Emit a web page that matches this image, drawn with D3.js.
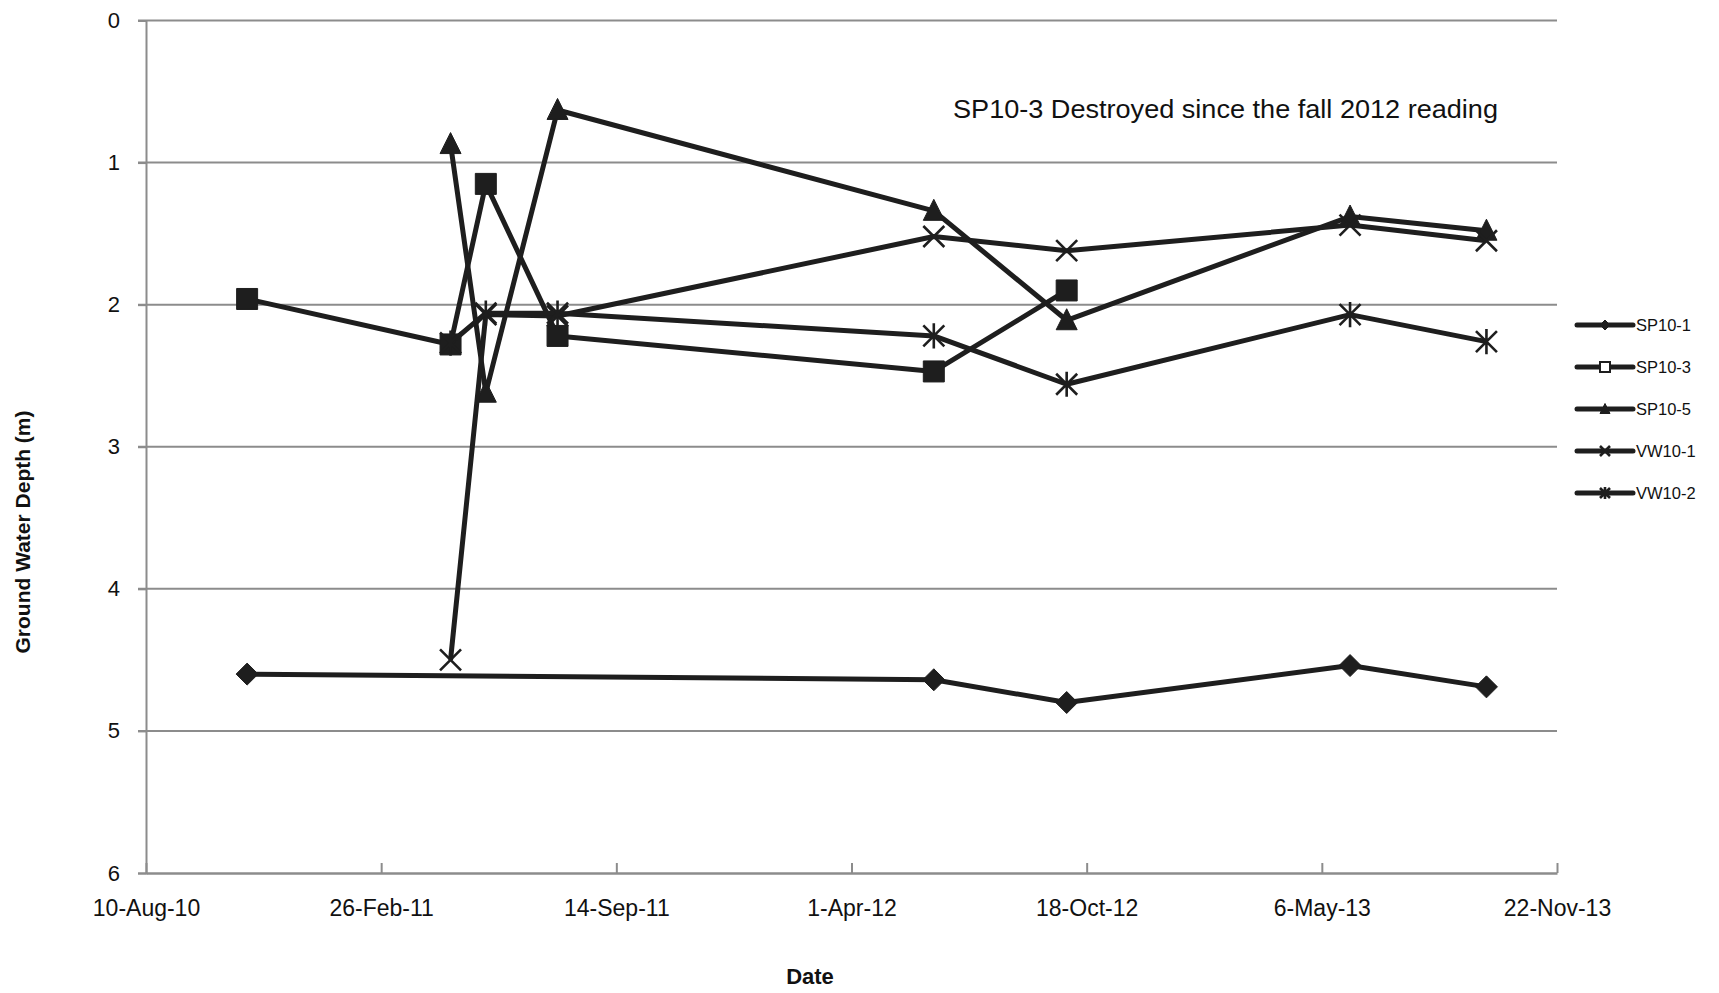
<!DOCTYPE html>
<html>
<head>
<meta charset="utf-8">
<script src="https://cdn.jsdelivr.net/npm/d3@7"></script>
<style>
  body { margin: 0; background: #fff; }
  text { font-family: "Liberation Sans", Arial, sans-serif; fill: #111; }
</style>
</head>
<body>
<script>
// data (depth in m below ground)
const sp101Dates = ['2010-11-04', '2012-06-10', '2012-10-01', '2013-05-30', '2013-09-23'];
const sp101Vals  = [4.60, 4.64, 4.80, 4.54, 4.69];

const sp103Dates = ['2010-11-04', '2011-04-26', '2011-05-26', '2011-07-26', '2012-06-10', '2012-10-01'];
const sp103Vals  = [1.96, 2.28, 1.15, 2.22, 2.47, 1.90];

const sp105Dates = ['2011-04-26', '2011-05-26', '2011-07-26', '2012-06-10', '2012-10-01', '2013-05-30', '2013-09-23'];
const sp105Vals  = [0.87, 2.62, 0.63, 1.34, 2.11, 1.38, 1.48];

const vw101Dates = ['2011-04-26', '2011-05-26', '2011-07-26', '2012-06-10', '2012-10-01', '2013-05-30', '2013-09-23'];
const vw101Vals  = [4.50, 2.07, 2.08, 1.52, 1.62, 1.44, 1.55];

const vw102Dates = ['2011-04-26', '2011-05-26', '2011-07-26', '2012-06-10', '2012-10-01', '2013-05-30', '2013-09-23'];
const vw102Vals  = [2.27, 2.06, 2.06, 2.22, 2.56, 2.07, 2.26];

const seriesNames = ['SP10-1', 'SP10-3', 'SP10-5', 'VW10-1', 'VW10-2'];
const yTicks = [0, 1, 2, 3, 4, 5, 6];
const xTickDates = ['2010-08-10', '2011-02-26', '2011-09-14', '2012-04-01', '2012-10-18', '2013-05-06', '2013-11-22'];
const note = 'SP10-3 Destroyed since the fall 2012 reading';

const parse = d3.utcParse('%Y-%m-%d');
const mk = (dates, vals) => dates.map((d, i) => ({date: parse(d), v: vals[i]}));

const series = [
  {name: seriesNames[0], marker: 'diamond', pts: mk(sp101Dates, sp101Vals)},
  {name: seriesNames[1], marker: 'square',  pts: mk(sp103Dates, sp103Vals)},
  {name: seriesNames[2], marker: 'triangle', pts: mk(sp105Dates, sp105Vals)},
  {name: seriesNames[3], marker: 'x',       pts: mk(vw101Dates, vw101Vals)},
  {name: seriesNames[4], marker: 'star',    pts: mk(vw102Dates, vw102Vals)}
];

const W = 1719, H = 993;
const svg = d3.select('body').append('svg')
  .attr('width', W)
  .attr('height', H);

const x = d3.scaleUtc()
  .domain([parse(xTickDates[0]), parse(xTickDates[xTickDates.length - 1])])
  .range([146, 1557]);
const y = d3.scaleLinear().domain([0, 6]).range([20.5, 873]);

const grey = '#8c8c8c';
const ink = '#1e1e1e';

// gridlines
svg.append('g')
  .selectAll('line')
  .data(yTicks.slice(0, -1))
  .join('line')
    .attr('x1', x.range()[0] - 8)
    .attr('x2', x.range()[1])
    .attr('y1', d => y(d))
    .attr('y2', d => y(d))
    .attr('stroke', grey)
    .attr('stroke-width', 2);

// y axis
const yAxis = svg.append('g')
  .attr('transform', 'translate(' + x.range()[0] + ',0)')
  .call(d3.axisLeft(y).tickValues(yTicks).tickSize(8).tickPadding(18).tickFormat(d3.format('d')));
yAxis.select('.domain').attr('stroke', grey).attr('stroke-width', 2);
yAxis.selectAll('.tick line').attr('stroke', grey).attr('stroke-width', 2);
yAxis.selectAll('.tick text').style('font-size', '22px').attr('fill', '#111');

// x axis (ticks point up into plot)
const xAxis = svg.append('g')
  .attr('transform', 'translate(0,' + y(6) + ')')
  .call(d3.axisBottom(x).tickValues(xTickDates.map(parse)).tickSizeInner(-10).tickSizeOuter(0)
    .tickPadding(31).tickFormat(d3.utcFormat('%-d-%b-%y')));
xAxis.select('.domain').attr('stroke', grey).attr('stroke-width', 2.5);
xAxis.selectAll('.tick line').attr('stroke', grey).attr('stroke-width', 2);
xAxis.selectAll('.tick text').style('font-size', '23px').attr('fill', '#111').attr('dy', '0.5em');

// axis titles
svg.append('text')
  .attr('transform', 'translate(30,532) rotate(-90)')
  .attr('text-anchor', 'middle')
  .style('font-size', '21px')
  .style('font-weight', 'bold')
  .text('Ground Water Depth (m)');

svg.append('text')
  .attr('x', 810)
  .attr('y', 984)
  .attr('text-anchor', 'middle')
  .style('font-size', '22px')
  .style('font-weight', 'bold')
  .text('Date');

svg.append('text')
  .attr('x', 953)
  .attr('y', 118)
  .style('font-size', '26px')
  .attr('textLength', 545)
  .attr('lengthAdjust', 'spacingAndGlyphs')
  .text(note);

// marker shapes
function markerPath(type, s) {
  const h = s / 2;
  if (type === 'diamond') return `M0,${-h}L${h},0L0,${h}L${-h},0Z`;
  if (type === 'square') return `M${-h},${-h}H${h}V${h}H${-h}Z`;
  if (type === 'triangle') return `M0,${-h * 1.1}L${h},${h * 0.9}L${-h},${h * 0.9}Z`;
  if (type === 'x') return `M${-h},${-h}L${h},${h}M${h},${-h}L${-h},${h}`;
  return `M${-h},${-h}L${h},${h}M${h},${-h}L${-h},${h}M0,${-h * 1.2}V${h * 1.2}`;
}
function drawMarker(g, type, s, open) {
  const stroked = type === 'x' || type === 'star';
  g.append('path')
    .attr('d', markerPath(type, s))
    .attr('fill', stroked ? 'none' : (open ? '#fff' : ink))
    .attr('stroke', ink)
    .attr('stroke-width', stroked ? 2.6 : (open ? 2 : 1));
}

const line = d3.line().x(d => x(d.date)).y(d => y(d.v));

const plot = svg.append('g');
series.forEach(s => {
  const g = plot.append('g').attr('class', 'series');
  g.append('path')
    .attr('d', line(s.pts))
    .attr('fill', 'none')
    .attr('stroke', ink)
    .attr('stroke-width', 5)
    .attr('stroke-linejoin', 'round');
  s.pts.forEach(p => {
    const m = g.append('g').attr('transform', 'translate(' + x(p.date) + ',' + y(p.v) + ')');
    drawMarker(m, s.marker, s.marker === 'diamond' ? 22 : 21, false);
  });
});

// legend
const legend = svg.append('g').attr('transform', 'translate(1577,325)');
series.forEach((s, i) => {
  const row = legend.append('g').attr('transform', 'translate(0,' + (i * 42) + ')');
  row.append('line')
    .attr('x1', 0).attr('x2', 56)
    .attr('stroke', ink).attr('stroke-width', 5).attr('stroke-linecap', 'round');
  const m = row.append('g').attr('transform', 'translate(28,0)');
  drawMarker(m, s.marker, 10, s.name === 'SP10-3');
  row.append('text')
    .attr('x', 59)
    .attr('y', 6)
    .style('font-size', '16.5px')
    .text(s.name);
});
</script>
</body>
</html>
